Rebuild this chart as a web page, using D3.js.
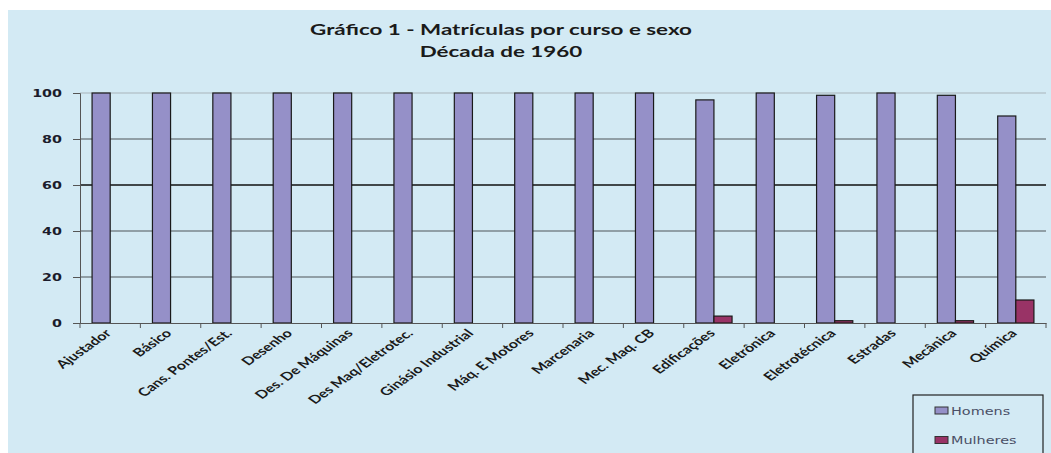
<!DOCTYPE html>
<html><head><meta charset="utf-8">
<script src="https://cdn.jsdelivr.net/npm/d3@7"></script>
<style>body{margin:0;background:#fff;}svg{display:block;}</style>
</head><body>
<script>
const categories = ["Ajustador","Básico","Cans. Pontes/Est.","Desenho","Des. De Máquinas","Des Maq/Eletrotec.","Ginásio Industrial","Máq. E Motores","Marcenaria","Mec. Maq. CB","Edificações","Eletrônica","Eletrotécnica","Estradas","Mecânica","Química"];
const homens   = [100,100,100,100,100,100,100,100,100,100,97,100,99,100,99,90];
const mulheres = [0,0,0,0,0,0,0,0,0,0,3,0,1,0,1,10];
const seriesNames = ["Homens","Mulheres"];
const yTicks = [0,20,40,60,80,100];
const titleLines = ["Gráfico 1 - Matrículas por curso e sexo","Década de 1960"];

(function(){
const W=1051,H=453;
const SX=1.4; // horizontal stretch of the reference picture
const colors=["#9590c8","#993366"];
const svg=d3.select("body").append("svg").attr("width",W).attr("height",H);
svg.append("rect").attr("x",8).attr("y",10).attr("width",W-8).attr("height",H-10).attr("fill","#d3eaf4");

const mL=80,mR=1046,mT=93,mB=323;
const x=d3.scaleBand().domain(categories).range([mL,mR]).paddingInner(0.4).paddingOuter(0.2);
const x0=d3.scaleBand().domain(categories).range([mL,mR]);
const xs=d3.scaleBand().domain(seriesNames).range([0,x.bandwidth()]);
const y=d3.scaleLinear().domain([0,100]).range([mB,mT]);

svg.append("g").selectAll("line").data(yTicks.filter(d=>d>0)).join("line")
  .attr("x1",mL).attr("x2",mR).attr("y1",d=>y(d)).attr("y2",d=>y(d))
  .attr("stroke",d=>d===60?"#111":(d===100?"#a9b4ba":"#4f5558"))
  .attr("stroke-width",d=>d===60?1.6:1.1);

const data=[homens,mulheres];
const g=svg.append("g");
categories.forEach((c,i)=>{
  seriesNames.forEach((s,j)=>{
    const v=data[j][i];
    if(v<=0) return;
    g.append("rect").attr("x",x(c)+xs(s)).attr("y",y(v)).attr("width",xs.bandwidth()).attr("height",y(0)-y(v))
      .attr("fill",colors[j]).attr("stroke","#1a1a1a").attr("stroke-width",1.2);
  });
});

const ya=d3.axisLeft(y).tickValues(yTicks).tickSize(7).tickPadding(0).tickFormat("");
const yg=svg.append("g").attr("transform",`translate(${mL},0)`).call(ya);
yg.select(".domain").attr("stroke","#555");
yg.selectAll(".tick line").attr("stroke","#555");
svg.append("g").selectAll("text").data(yTicks).join("text")
  .attr("transform",d=>`translate(62,${y(d)+4}) scale(1.3,1)`)
  .attr("text-anchor","end").attr("font-family","DejaVu Sans").attr("font-weight","bold").attr("font-size","11px").attr("fill","#1c1c2c")
  .text(d=>d);

const xa=d3.axisBottom(x0).tickSize(0).tickFormat("");
const xg=svg.append("g").attr("transform",`translate(0,${mB})`).call(xa);
xg.select(".domain").attr("stroke","#555");
xg.selectAll(".bnd").data(d3.range(categories.length+1)).join("line")
  .attr("x1",i=>mL+i*x0.step()).attr("x2",i=>mL+i*x0.step()).attr("y1",0).attr("y2",5).attr("stroke","#555");
svg.append("g").selectAll("text").data(categories).join("text")
  .attr("transform",d=>`translate(${x0(d)+x0.bandwidth()/2+2},${mB+11}) scale(${SX},1) rotate(-45)`)
  .attr("text-anchor","end").attr("font-family","Lato").attr("font-weight","bold").attr("font-size","11.5px").attr("fill","#1a1a1a")
  .text(d=>d);

svg.append("g").selectAll("text").data(titleLines).join("text")
  .attr("transform",(d,i)=>`translate(501,${35+i*22}) scale(${SX},1)`).attr("text-anchor","middle")
  .attr("font-family","Lato").attr("font-weight","bold").attr("font-size","16px").attr("fill","#1a1a1a").text(d=>d);

const lg=svg.append("g");
lg.append("rect").attr("x",913).attr("y",395).attr("width",130).attr("height",70).attr("fill","none").attr("stroke","#222").attr("stroke-width",1.2);
seriesNames.forEach((s,j)=>{
  lg.append("rect").attr("x",935).attr("y",407+j*29.5).attr("width",13).attr("height",7).attr("fill",colors[j]).attr("stroke","#333").attr("stroke-width",1);
  lg.append("text").attr("transform",`translate(951,${414.5+j*29.5}) scale(${SX},1)`).attr("font-family","DejaVu Sans").attr("font-size","10.3px").attr("fill","#4a4f66").text(s);
});
})();
</script>
</body></html>
